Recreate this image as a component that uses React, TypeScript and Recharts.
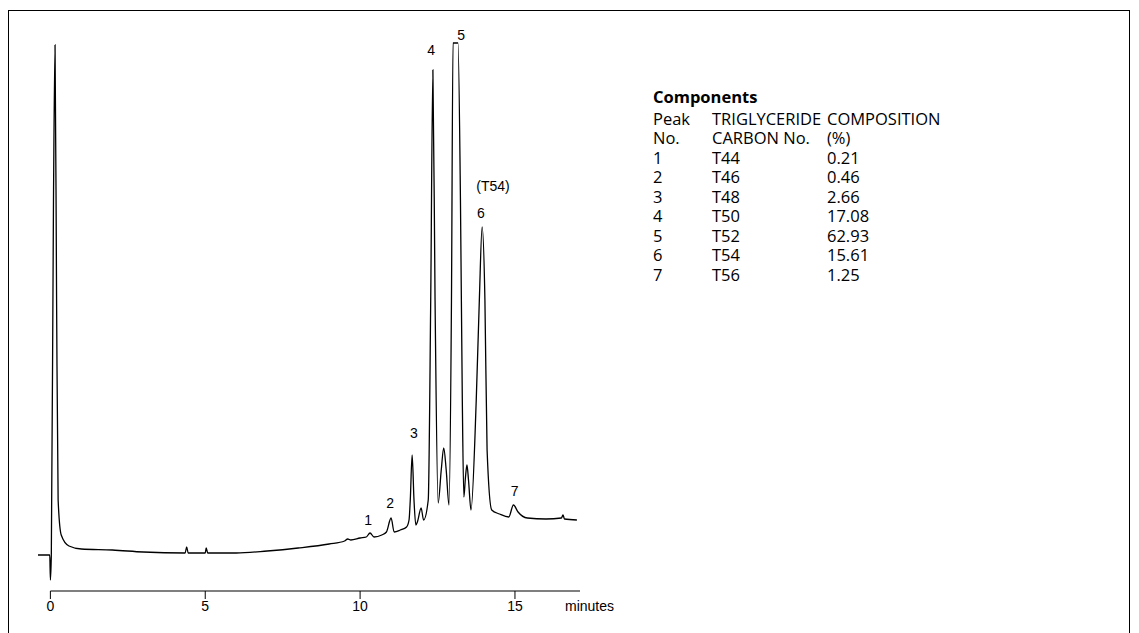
import React from 'react';
import { LineChart, Line, XAxis, YAxis, ReferenceLine, ReferenceDot } from 'recharts';

// signal trace: time (min) and detector pixels (value = 591 - pixel row)
const times = [-0.4, -0.02, 0, 0.03, 0.1, 0.15, 0.2, 0.25, 0.35, 0.6, 1, 2, 3, 4.35, 4.4, 4.45, 5, 5.03, 5.08, 6, 7, 8, 9, 9.5, 9.6, 9.7, 10, 10.2, 10.32, 10.45, 10.7, 10.85, 11.0, 11.1, 11.3, 11.5, 11.58, 11.62, 11.68, 11.74, 11.8, 11.85, 11.97, 12.05, 12.2, 12.28, 12.35, 12.42, 12.52, 12.62, 12.7, 12.78, 12.87, 12.95, 13.0, 13.16, 13.24, 13.3, 13.35, 13.4, 13.45, 13.5, 13.58, 13.75, 13.85, 13.94, 14.03, 14.1, 14.25, 14.5, 14.8, 14.95, 15.1, 15.4, 16, 16.5, 16.55, 16.6, 17];
const rows = [555, 555, 580, 555, 200, 45, 300, 500, 535, 546, 549, 550, 552, 553, 547, 553, 553, 548, 553, 553, 551, 548, 544, 541, 539, 540, 538, 537, 533, 537, 535, 532, 518, 532, 530, 527, 520, 500, 455, 500, 525, 522, 508, 520, 500, 300, 70, 300, 503, 470, 448, 470, 505, 300, 43, 43, 200, 400, 497, 478, 465, 480, 510, 400, 300, 227, 300, 450, 510, 514, 517, 505, 512, 518, 519, 518, 515, 519, 520];
const data = times.map((t, i) => ({ t, v: 591 - rows[i] }));

const xTicks = [0, 5, 10, 15];
const peakLabels = ['1', '2', '3', '4', '5', '(T54)', '6', '7'];
const peakLabelT = [10.26, 10.97, 11.74, 12.29, 13.26, 14.29, 13.9, 14.99];
const peakLabelV = [71, 88, 158, 541, 556, 405, 378, 100];

const compPeak = ['1', '2', '3', '4', '5', '6', '7'];
const compCarbon = ['T44', 'T46', 'T48', 'T50', 'T52', 'T54', 'T56'];
const compPct = ['0.21', '0.46', '2.66', '17.08', '62.93', '15.61', '1.25'];

const txt: React.CSSProperties = { fontFamily: '"Open Sans", sans-serif', fontSize: 16.5, color: '#000', lineHeight: '19.5px' };
const lbl = { fill: '#000', fontSize: 14, fontFamily: '"Liberation Sans", Arial' };

export default function App() {
  return (
    <div style={{ position: 'absolute', left: 0, top: 0, width: 1139, height: 633, overflow: 'hidden', background: '#fff' }}>
      <div style={{ position: 'absolute', left: 8, top: 10, width: 1122, height: 650, border: '1px solid #000', boxSizing: 'border-box' }} />
      <div style={{ position: 'absolute', left: 0, top: 0 }}>
        <LineChart width={620} height={633} data={data} margin={{ top: 30, right: 40, bottom: 12, left: 38 }}>
          <XAxis dataKey="t" type="number" domain={[-0.4, 17.1]} ticks={xTicks} axisLine={false} tickSize={8}
            tickLine={{ stroke: '#000' }} tick={lbl} height={30} />
          <YAxis type="number" domain={[0, 561]} hide allowDataOverflow />
          <ReferenceLine segment={[{ x: 0, y: 0 }, { x: 17.1, y: 0 }]} stroke="#000" strokeWidth={1.2} ifOverflow="visible" />
          <Line dataKey="v" type="monotone" stroke="#000" strokeWidth={1.3} dot={false} isAnimationActive={false} />
          {peakLabels.map((l, i) => (
            <ReferenceDot key={i} x={peakLabelT[i]} y={peakLabelV[i]} r={0} ifOverflow="visible"
              label={{ value: l, position: 'center', ...lbl }} />
          ))}
        </LineChart>
      </div>
      <div style={{ position: 'absolute', left: 565, top: 598, fontFamily: '"Liberation Sans", Arial', fontSize: 14 }}>minutes</div>
      <div style={{ position: 'absolute', left: 653, top: 87, ...txt }}>
        <div style={{ fontWeight: 'bold', marginBottom: 2 }}>Components</div>
        <div style={{ display: 'flex' }}>
          <div style={{ width: 59 }}>Peak<br />No.</div>
          <div style={{ width: 115 }}>TRIGLYCERIDE<br />CARBON No.</div>
          <div>COMPOSITION<br />(%)</div>
        </div>
        {compPeak.map((p, i) => (
          <div key={i} style={{ display: 'flex' }}>
            <div style={{ width: 59 }}>{p}</div>
            <div style={{ width: 115 }}>{compCarbon[i]}</div>
            <div>{compPct[i]}</div>
          </div>
        ))}
      </div>
    </div>
  );
}
